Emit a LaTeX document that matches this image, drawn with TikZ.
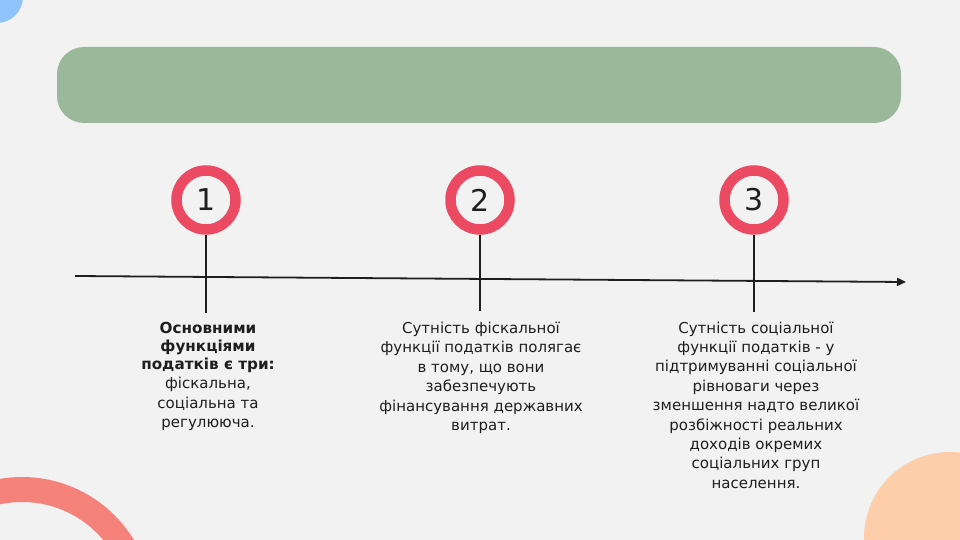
\documentclass[tikz,border=0pt]{standalone}
\usepackage{fontspec}
\setmainfont{DejaVu Sans}
\usetikzlibrary{arrows.meta}
\definecolor{bg}{HTML}{F2F2F2}
\definecolor{blueC}{HTML}{8FC3FB}
\definecolor{salmon}{HTML}{F4827B}
\definecolor{peach}{HTML}{FECDAA}
\definecolor{sage}{HTML}{9BB89A}
\definecolor{ringred}{HTML}{EC4A62}
\definecolor{ink}{HTML}{1E1E1E}
\tikzset{
  banner/.style={rectangle, fill=sage, draw=none, rounded corners=27pt,
    minimum width=844pt, minimum height=76pt, inner sep=0pt},
  numring/.style={circle, draw=ringred, line width=10.5pt, minimum size=59pt,
    inner sep=0pt, outer sep=5.25pt, text=ink, font=\fontsize{30}{30}\selectfont},
  stem/.style={draw=ink, line width=1.8pt},
  axisline/.style={draw=ink, line width=1.8pt, -{Triangle[length=9pt,width=8pt]}},
  txt/.style={anchor=base, inner sep=0pt, text=ink},
}
\begin{document}
\begin{tikzpicture}[x=1pt,y=1pt]
\useasboundingbox (0,0) rectangle (960,-540);
\fill[bg] (0,0) rectangle (960,-540);
\begin{scope}
  \clip (0,0) rectangle (960,-540);
  \fill[blueC] (-3,3) circle (26);
  \draw[salmon, line width=25pt] (22,-608) circle (118.5);
  \fill[peach] (950,-538) circle (86);
\end{scope}
\node[banner] (title) at (479,-85) {};
\coordinate (axL) at (75,-276);
\coordinate (axR) at (906,-282);
\draw[axisline] (axL) -- (axR);
\node[numring] (c1) at (206,-200) {1};
\node[numring] (c2) at (480,-200) {2};
\node[numring] (c3) at (754,-200) {3};
\coordinate (e1) at (206,-313);
\coordinate (e2) at (480,-311);
\coordinate (e3) at (754,-312);
\draw[stem] (c1.south) -- (e1);
\draw[stem] (c2.south) -- (e2);
\draw[stem] (c3.south) -- (e3);
\node[txt] (t1) at (208,-333) {\parbox[t]{260pt}{\centering
  {\bfseries\fontsize{15.2}{18}\selectfont Основними\\функціями\\податків є три:\par}
  {\fontsize{15}{19.5}\selectfont фіскальна,\\соціальна та\\регулююча.\par}}};
\node[txt] (t2) at (481,-333) {\parbox[t]{260pt}{\centering\fontsize{15}{19.5}\selectfont
  Сутність фіскальної\\функції податків полягає\\в тому, що вони\\забезпечують\\фінансування державних\\витрат.\par}};
\node[txt] (t3) at (756,-333) {\parbox[t]{260pt}{\centering\fontsize{15}{19.4}\selectfont
  Сутність соціальної\\функції податків - у\\підтримуванні соціальної\\рівноваги через\\зменшення надто великої\\розбіжності реальних\\доходів окремих\\соціальних груп\\населення.\par}};
\end{tikzpicture}
\end{document}
